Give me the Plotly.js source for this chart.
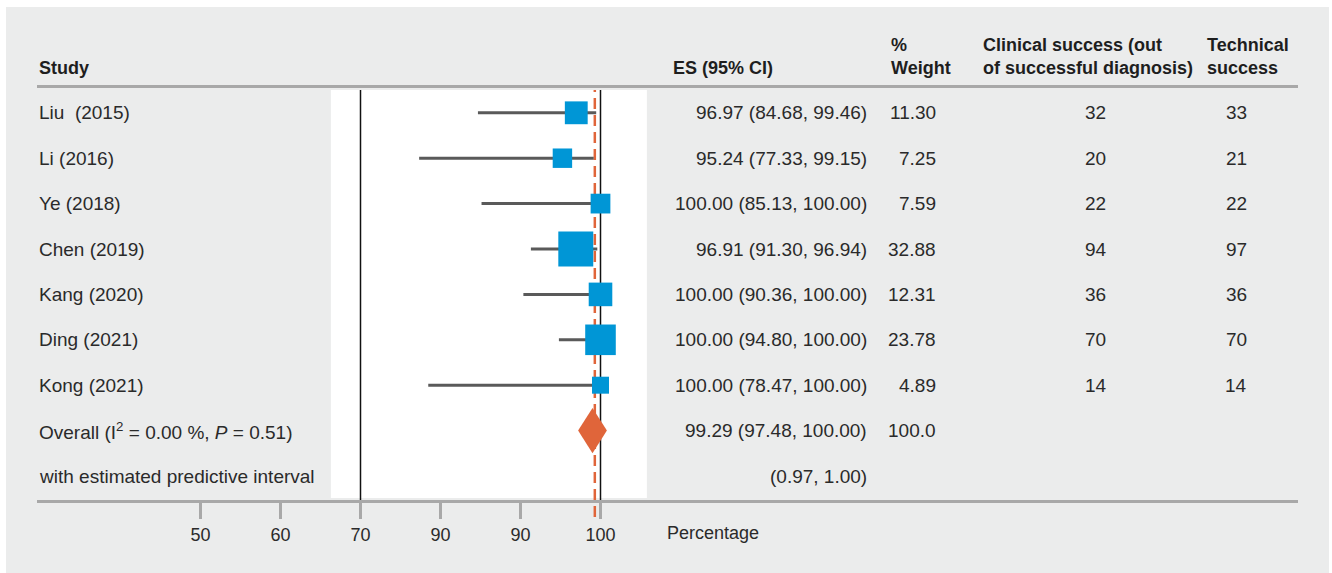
<!DOCTYPE html>
<html>
<head>
<meta charset="utf-8">
<script src="https://cdn.plot.ly/plotly-3.0.1.min.js"></script>
<style>html,body{margin:0;padding:0;background:#fff;}#chart{width:1332px;height:573px;}</style>
</head>
<body>
<div id="chart"></div>
<script>
// ---- data ----
const studies = ['Liu  (2015)', 'Li (2016)', 'Ye (2018)', 'Chen (2019)', 'Kang (2020)', 'Ding (2021)', 'Kong (2021)'];
const es = [96.97, 95.24, 100.00, 96.91, 100.00, 100.00, 100.00];
const ciLow = [84.68, 77.33, 85.13, 91.30, 90.36, 94.80, 78.47];
const ciHigh = [99.46, 99.15, 100.00, 96.94, 100.00, 100.00, 100.00];
// upper whisker ends as drawn in the picture (Chen's line reaches ~99.6)
const ciHighDrawn = [99.46, 99.15, 100.00, 99.6, 100.00, 100.00, 100.00];
const weights = [11.30, 7.25, 7.59, 32.88, 12.31, 23.78, 4.89];
const clinicalSuccess = [32, 20, 22, 94, 36, 70, 14];
const technicalSuccess = [33, 21, 22, 97, 36, 70, 14];
const overallEs = [99.29];
const overallCi = [97.48, 100.00];
const overallDiamond = [97.2, 99.0, 100.8]; // left, peak, right as drawn
const overallWeight = ['100.0'];
const overallLabel = ['Overall (I<sup>2</sup> = 0.00 %, <i>P</i> = 0.51)'];
const predictiveLabel = ['with estimated predictive interval'];
const predictiveInterval = [0.97, 1.00];
const tickVals = [50, 60, 70, 80, 90, 100];
const tickText = ['50', '60', '70', '90', '90', '100'];
const refLine = [70, 100];

// ---- geometry helpers (pixel -> paper) ----
const W = 1332, H = 573, L = 37, R = 1298, T = 88, B = 500;
const px = p => (p - L) / (R - L);
const py = p => (B - p) / (B - T);

const FONT = 'Liberation Sans, Arial, sans-serif';
const TXT = '#2a2a2a';
const rows = studies.map((_, i) => i);
const overallRow = studies.length;
const predRow = studies.length + 1;

// CI lines
const ciX = [], ciY = [];
rows.forEach(i => { ciX.push(ciLow[i], ciHighDrawn[i], null); ciY.push(i, i, null); });

const traces = [
  {type: 'scatter', mode: 'lines', x: ciX, y: ciY, line: {color: '#5a5a5a', width: 3}, hoverinfo: 'skip', showlegend: false},
  {type: 'scatter', mode: 'lines', fill: 'toself', fillcolor: '#e0653a',
   x: [overallDiamond[0], overallDiamond[1], overallDiamond[2], overallDiamond[1], overallDiamond[0]],
   y: [overallRow, overallRow - 0.5, overallRow, overallRow + 0.5, overallRow],
   line: {color: '#e0653a', width: 0}, hoverinfo: 'skip', showlegend: false},
  {type: 'scatter', mode: 'markers', x: es, y: rows,
   marker: {symbol: 'square', color: '#0096d6', opacity: 1, size: weights.map(w => 5.7 + 5.1 * Math.sqrt(w)), line: {width: 0}},
   cliponaxis: false, hoverinfo: 'skip', showlegend: false}
];

const ann = [];
const rowText = (x, y, text, anchor) => ann.push({xref: 'paper', yref: 'y', x: x, y: y, text: text,
  showarrow: false, xanchor: anchor, yanchor: 'middle', font: {family: FONT, size: 19, color: TXT}});
rows.forEach(i => {
  rowText(px(37), i, studies[i], 'left');
  rowText(px(869), i, es[i].toFixed(2) + ' (' + ciLow[i].toFixed(2) + ', ' + ciHigh[i].toFixed(2) + ')', 'right');
  rowText(px(938), i, weights[i].toFixed(2), 'right');
  rowText(px(1095.5), i, String(clinicalSuccess[i]), 'center');
  rowText(px(1236), i, String(technicalSuccess[i]), 'center');
});
rowText(px(37), overallRow, overallLabel[0], 'left');
rowText(px(869), overallRow, overallEs[0].toFixed(2) + ' (' + overallCi[0].toFixed(2) + ', ' + overallCi[1].toFixed(2) + ')', 'right');
rowText(px(938), overallRow, overallWeight[0], 'right');
rowText(px(37), predRow, predictiveLabel[0], 'left');
rowText(px(869), predRow, '(' + predictiveInterval[0].toFixed(2) + ', ' + predictiveInterval[1].toFixed(2) + ')', 'right');

const head = (x, y, text) => ann.push({xref: 'paper', yref: 'paper', x: x, y: y, text: text, align: 'left',
  showarrow: false, xanchor: 'left', yanchor: 'middle', font: {family: FONT, size: 18, color: '#1e1e1e', weight: 'bold'}});
head(px(37), py(68), 'Study');
head(px(671), py(68), 'ES (95% CI)');
head(px(889), py(56.5), '%<br>Weight');
head(px(981), py(56.5), 'Clinical success (out<br>of successful diagnosis)');
head(px(1205), py(56.5), 'Technical<br>success');
ann.push({xref: 'paper', yref: 'paper', x: px(665), y: py(533), text: 'Percentage', showarrow: false,
  xanchor: 'left', yanchor: 'middle', font: {family: FONT, size: 18, color: TXT}});

const shapes = [
  {type: 'rect', xref: 'paper', yref: 'paper', x0: px(6), x1: px(1329), y0: py(573), y1: py(7),
   fillcolor: '#ebecec', line: {width: 0}, layer: 'below'},
  {type: 'rect', xref: 'x', yref: 'paper', x0: 66.3, x1: 105.8, y0: py(498), y1: py(90),
   fillcolor: '#ffffff', line: {width: 0}, layer: 'below'},
  {type: 'line', xref: 'x', yref: 'paper', x0: overallEs[0], x1: overallEs[0], y0: py(517), y1: py(90),
   line: {color: '#e0653a', width: 2.5, dash: '11px,6px'}, layer: 'below'}
];
refLine.forEach(v => shapes.push({type: 'line', xref: 'x', yref: 'paper', x0: v, x1: v, y0: py(517), y1: py(90),
  line: {color: '#111111', width: 1.5}, layer: 'below'}));

const layout = {
  width: W, height: H,
  margin: {l: L, r: W - R, t: T, b: H - B, pad: 0},
  paper_bgcolor: '#ffffff', plot_bgcolor: 'rgba(0,0,0,0)',
  showlegend: false,
  xaxis: {range: [70 - (360.5 - L) / 8, 70 + (R - 360.5) / 8], tickvals: tickVals, ticktext: tickText,
    showgrid: false, zeroline: false, showline: true, mirror: true, linecolor: '#a8a8a8', linewidth: 3,
    ticks: 'outside', ticklen: 16, tickwidth: 3, tickcolor: '#a8a8a8',
    tickfont: {family: FONT, size: 18, color: TXT}, fixedrange: true},
  yaxis: {range: [(B - 112.8) / 45.4, (T - 112.8) / 45.4], showgrid: false, zeroline: false, showline: false,
    showticklabels: false, ticks: '', fixedrange: true},
  shapes: shapes,
  annotations: ann
};

Plotly.newPlot('chart', traces, layout, {displayModeBar: false, staticPlot: true});
</script>
</body>
</html>
